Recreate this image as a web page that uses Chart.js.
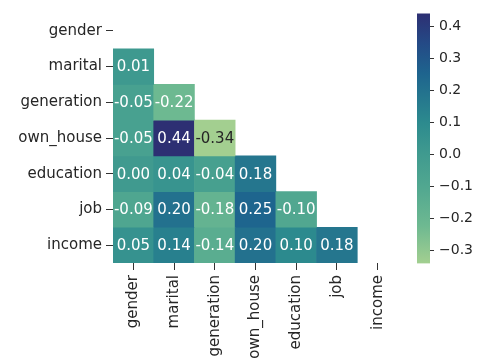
<!DOCTYPE html>
<html>
<head>
<meta charset="utf-8">
<script src="https://cdn.jsdelivr.net/npm/chart.js@4.4.0/dist/chart.umd.min.js"></script>
<style>
  html, body { margin: 0; padding: 0; background: #fff; }
  #wrap { position: relative; width: 483px; height: 358px; overflow: hidden; }
  #heat { position: absolute; left: 0; top: 0; }
  #cbar { position: absolute; left: 400px; top: 0; }
</style>
</head>
<body>
<div id="wrap">
  <canvas id="heat" width="483" height="358"></canvas>
  <canvas id="cbar" width="83" height="358"></canvas>
</div>
<script>
// Variables (rows and columns share the same order)
const variables = ['gender', 'marital', 'generation', 'own_house', 'education', 'job', 'income'];

// Lower-triangle correlations: one array per row, columns left to right
const genderCorr     = [];
const maritalCorr    = [0.01];
const generationCorr = [-0.05, -0.22];
const ownHouseCorr   = [-0.05, 0.44, -0.34];
const educationCorr  = [0.00, 0.04, -0.04, 0.18];
const jobCorr        = [-0.09, 0.20, -0.18, 0.25, -0.10];
const incomeCorr     = [0.05, 0.14, -0.14, 0.20, 0.10, 0.18];

// Colorbar tick values
const colorbarTicks = [-0.3, -0.2, -0.1, 0.0, 0.1, 0.2, 0.3, 0.4];

const corrRows = [genderCorr, maritalCorr, generationCorr, ownHouseCorr, educationCorr, jobCorr, incomeCorr];
const allValues = corrRows.flat();
const vmin = Math.min(...allValues);
const vmax = Math.max(...allValues);

// "crest"-style colormap: light green -> teal -> blue -> indigo
const crestStops = [
  [0.00, [163, 207, 144]],
  [0.15, [110, 185, 145]],
  [0.30, [ 82, 168, 144]],
  [0.45, [ 62, 153, 143]],
  [0.565,[ 44, 138, 142]],
  [0.76, [ 30, 100, 142]],
  [0.88, [ 36,  74, 134]],
  [1.00, [ 45,  47, 115]]
];

function crestRGB(t) {
  t = Math.max(0, Math.min(1, t));
  for (let i = 1; i < crestStops.length; i++) {
    const [t1, c1] = crestStops[i];
    const [t0, c0] = crestStops[i - 1];
    if (t <= t1) {
      const f = (t - t0) / (t1 - t0);
      return c0.map((v, k) => Math.round(v + (c1[k] - v) * f));
    }
  }
  return crestStops[crestStops.length - 1][1];
}
function colorFor(v) {
  const c = crestRGB((v - vmin) / (vmax - vmin));
  return `rgb(${c[0]},${c[1]},${c[2]})`;
}
function luminance(c) {
  const lin = c.map(x => { x /= 255; return x <= 0.03928 ? x / 12.92 : Math.pow((x + 0.055) / 1.055, 2.4); });
  return 0.2126 * lin[0] + 0.7152 * lin[1] + 0.0722 * lin[2];
}

const FONT = 'DejaVu Sans';
const TEXT = '#262626';

// One floating-bar dataset per row; each cell spans [row, row + 1] on the y scale
const datasets = corrRows.map((vals, r) => ({
  data: variables.map((_, c) => (c < vals.length ? [r, r + 1] : null)),
  backgroundColor: ctx => (vals[ctx.dataIndex] === undefined ? 'rgba(0,0,0,0)' : colorFor(vals[ctx.dataIndex])),
  borderWidth: 0,
  barPercentage: 1,
  categoryPercentage: 1,
  grouped: false
}));

// Writes each cell's value at the cell centre
const cellLabels = {
  id: 'cellLabels',
  afterDatasetsDraw(chart) {
    const { ctx, scales: { x, y } } = chart;
    ctx.save();
    ctx.font = `15px "${FONT}"`;
    ctx.textAlign = 'center';
    ctx.textBaseline = 'middle';
    corrRows.forEach((vals, r) => {
      vals.forEach((v, c) => {
        const rgb = crestRGB((v - vmin) / (vmax - vmin));
        ctx.fillStyle = luminance(rgb) > 0.408 ? TEXT : '#ffffff';
        ctx.fillText(v.toFixed(2), x.getPixelForValue(c), y.getPixelForValue(r + 0.5) + 1);
      });
    });
    ctx.restore();
  }
};

new Chart(document.getElementById('heat'), {
  type: 'bar',
  data: { labels: variables, datasets },
  plugins: [cellLabels],
  options: {
    responsive: false,
    animation: false,
    layout: { autoPadding: false, padding: { left: 0, top: 7, right: 85, bottom: 0 } },
    plugins: { legend: { display: false }, tooltip: { enabled: false } },
    scales: {
      x: {
        type: 'category',
        offset: true,
        border: { display: false },
        grid: { drawOnChartArea: false, offset: false, tickLength: 7, tickColor: '#333', tickWidth: 1 },
        ticks: {
          autoSkip: false, minRotation: 90, maxRotation: 90, padding: 5,
          color: TEXT, font: { family: FONT, size: 15 }
        },
        afterFit(scale) { scale.height = 95; }
      },
      y: {
        type: 'linear',
        min: 0, max: 7, reverse: true,
        border: { display: false },
        grid: { drawOnChartArea: false, tickLength: 7, tickColor: '#333', tickWidth: 1 },
        afterBuildTicks(scale) { scale.ticks = variables.map((_, i) => ({ value: i + 0.5 })); },
        ticks: {
          padding: 4,
          color: TEXT, font: { family: FONT, size: 15 },
          callback: v => variables[Math.round(v - 0.5)]
        },
        afterFit(scale) { scale.width = 113; }
      }
    }
  }
});

// Colorbar: a single floating bar from vmin to vmax filled with the colormap
new Chart(document.getElementById('cbar'), {
  type: 'bar',
  data: {
    labels: [''],
    datasets: [{
      data: [[vmin, vmax]],
      barPercentage: 1,
      categoryPercentage: 1,
      borderWidth: 0,
      backgroundColor(ctx) {
        const chart = ctx.chart;
        if (!chart.chartArea) return null;
        const ys = chart.scales.y;
        const g = chart.ctx.createLinearGradient(0, ys.getPixelForValue(vmin), 0, ys.getPixelForValue(vmax));
        crestStops.forEach(([t, c]) => g.addColorStop(t, `rgb(${c[0]},${c[1]},${c[2]})`));
        return g;
      }
    }]
  },
  options: {
    responsive: false,
    animation: false,
    layout: { autoPadding: false, padding: { left: 17, top: 10, right: 0, bottom: 94.5 } },
    plugins: { legend: { display: false }, tooltip: { enabled: false } },
    scales: {
      x: { display: false },
      y: {
        position: 'right',
        min: vmin, max: vmax,
        border: { display: false },
        grid: { drawOnChartArea: false, tickLength: 4, tickColor: '#333', tickWidth: 1 },
        afterBuildTicks(scale) { scale.ticks = colorbarTicks.map(v => ({ value: v })); },
        ticks: {
          padding: 5,
          color: TEXT, font: { family: FONT, size: 14 },
          callback: v => v.toFixed(1).replace('-', '\u2212')
        },
        afterFit(scale) { scale.width = 53; }
      }
    }
  }
});
</script>
</body>
</html>
